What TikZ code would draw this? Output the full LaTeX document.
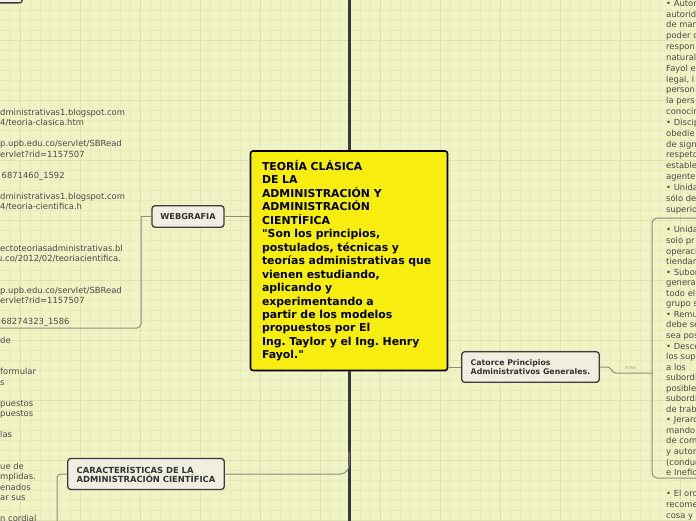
\documentclass[tikz,border=0pt]{standalone}
\usepackage{fontspec}
\setmainfont{DejaVu Sans}
\frenchspacing
\definecolor{bgc}{HTML}{F0F3C4}
\definecolor{gridminor}{HTML}{E7EBBB}
\definecolor{gridmajor}{HTML}{DFE3B1}
\definecolor{trunkc}{HTML}{343B45}
\definecolor{mainfill}{HTML}{F7EE10}
\definecolor{subfill}{HTML}{F0EEE1}
\definecolor{subborder}{HTML}{3C3C3C}
\definecolor{textdark}{HTML}{333333}
\definecolor{listc}{HTML}{4A4A4A}
\definecolor{connc}{HTML}{8C8C80}
\definecolor{areac}{HTML}{A3A393}
\begin{document}
\begin{tikzpicture}[x=1pt,y=-1pt,
  mainbox/.style={draw=black, line width=1.6pt, fill=mainfill, rounded corners=2.5pt,
    text width=174pt, align=left, inner xsep=11.5pt, inner ysep=0pt, minimum height=219.5pt,
    font=\bfseries\fontsize{10.9}{13.47}\selectfont},
  subbox/.style={draw=subborder, line width=1.3pt, fill=subfill, rounded corners=3pt,
    align=left, text=textdark, inner sep=0pt},
  listtext/.style={align=left, text=listc, inner sep=0pt, font=\fontsize{8.4}{10.47}\selectfont},
  conn/.style={draw=connc, line width=1pt},
  bracketline/.style={draw=connc, line width=1pt, rounded corners=4pt},
  trunk/.style={draw=trunkc, line width=3pt},
]
\useasboundingbox (0,0) rectangle (696,520);
\clip (0,0) rectangle (696,520);
\fill[bgc] (0,0) rectangle (696,520);
\foreach \x in {10,20,...,690} \draw[gridminor, line width=0.7pt] (\x,0) -- (\x,520);
\foreach \y in {10,20,...,510} \draw[gridminor, line width=0.7pt] (0,\y) -- (696,\y);
\foreach \x in {20,80,...,680} \draw[gridmajor, line width=0.8pt] (\x,0) -- (\x,520);
\foreach \y in {40,100,...,520} \draw[gridmajor, line width=0.8pt] (0,\y) -- (696,\y);

% nodes
\node[mainbox] (center) at (349,260.75) {TEORÍA CLÁSICA\\DE LA\\ADMINISTRACIÓN Y\\ADMINISTRACIÓN\\CIENTÍFICA\\\textquotedbl Son los principios,\\postulados, técnicas y\\teorías administrativas que\\vienen estudiando,\\aplicando y\\experimentando a\\partir de los modelos\\propuestos por El\\Ing. Taylor y el Ing. Henry\\Fayol.\textquotedbl};

\node[subbox, anchor=south east, minimum width=60pt, minimum height=30pt] (topleft) at (23,3.5) {};

\node[subbox, minimum width=72pt, minimum height=21.5pt, font=\bfseries\fontsize{8.2}{9.3}\selectfont] (web) at (188,216.5) {WEBGRAFIA};

\node[subbox, minimum width=156.5pt, minimum height=31pt, font=\bfseries\fontsize{8.4}{9}\selectfont] (car) at (146,474) {CARACTERÍSTICAS DE LA\\ADMINISTRACIÓN CIENTÍFICA};

\node[subbox, minimum width=137.5pt, minimum height=30.6pt, font=\bfseries\fontsize{7.8}{8.8}\selectfont] (cat) at (530.5,367) {Catorce Principios\\Administrativos Generales.};

% coordinates
\coordinate (ttop) at (349,-5);
\coordinate (tbot) at (349,525);
\coordinate (wb1) at (141,216.5);
\coordinate (wb2) at (141,328);
\coordinate (wb3) at (-5,328);
\coordinate (cj) at (349,452);
\coordinate (cb) at (57,525);
\coordinate (rbj) at (652,373);

% connectors
\draw[trunk] (ttop) -- (center.north);
\draw[trunk] (center.south) -- (tbot);
\draw[conn] (web.east) -- (web.east -| center.west);
\draw[conn] (web.west) -- (wb1);
\draw[bracketline] (wb1) -- (wb2) -- (wb3);
\draw[conn, rounded corners=9pt] (car.east) -| (cj);
\draw[bracketline] (car.west) -| (cb);
\draw[conn] (cat.west) -- (cat.west -| center.east);
\draw[conn] (cat.east) -- (607,367) .. controls (612,367) and (611,373) .. (616,373) -- (rbj);
\draw[bracketline, rounded corners=5pt] (700,218) -- (652,218) -- (652,478) -- (700,478);
\node[text=areac, inner sep=0pt, font=\fontsize{4.6}{5}\selectfont] (area) at (630.5,367.5) {Area};

% left list (webgrafia)  -- base anchor = last line baseline
\node[listtext, anchor=base west] (weblist) at (0,324.7) {dministrativas1.blogspot.com\\4/teoria-clasica.htm\\\mbox{}\\p.upb.edu.co/servlet/SBRead\\ervlet?rid=1157507\\\mbox{}\\\hspace{1.5pt}6871460\_1592\\\mbox{}\\dministrativas1.blogspot.com\\4/teoria-cientifica.h\\\mbox{}\\\mbox{}\\\mbox{}\\ectoteoriasadministrativas.bl\\\hspace{-3pt}u.co/2012/02/teoriacientifica.\\\mbox{}\\\mbox{}\\p.upb.edu.co/servlet/SBRead\\ervlet?rid=1157507\\\mbox{}\\\hspace{1pt}68274323\_1586};

% left list (caracteristicas)
\node[listtext, anchor=base west] (carlist) at (0,521.5) {de\\\mbox{}\\\mbox{}\\formular\\s\\\mbox{}\\puestos\\puestos\\\mbox{}\\las\\\mbox{}\\\mbox{}\\ue de\\mplidas.\\enados\\ar sus\\\mbox{}\\n cordial};

% right lists
\node[listtext, anchor=base west, font=\fontsize{8.4}{10.83}\selectfont] (rlistA) at (666,212) {• Autor\\autorid\\de man\\poder d\\respon\\natural\\Fayol e\\legal, l\\person\\la pers\\conocim\\• Discip\\obedie\\de sign\\respeto\\estable\\agente\\• Unida\\sólo de\\superio};
\node[listtext, anchor=base west, font=\fontsize{8.4}{10.55}\selectfont] (rlistB) at (666,475.6) {• Unida\\solo pr\\operaci\\tiendan\\• Subor\\general\\todo el\\grupo s\\• Remu\\debe se\\sea pos\\• Desce\\los sup\\a los\\subordi\\posible\\subordi\\de trab\\• Jerarc\\mando,\\de com\\y autor\\(conduc\\e Inefic};
\node[listtext, anchor=base west, font=\fontsize{8.4}{10.55}\selectfont] (rlistC) at (666,518) {• El ord\\recome\\cosa y};
\end{tikzpicture}
\end{document}
